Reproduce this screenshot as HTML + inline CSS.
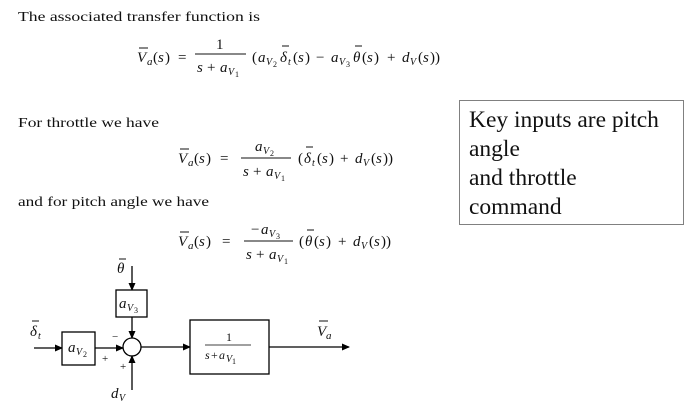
<!DOCTYPE html>
<html><head><meta charset="utf-8"><style>
html,body{margin:0;padding:0;background:#fff;width:696px;height:416px;overflow:hidden}
svg{display:block}
text{font-family:"Liberation Serif",serif;fill:#111}
.m{font-style:italic}
.s{font-style:italic;font-size:10px}
.n{font-size:8px}
</style></head><body>
<svg width="696" height="416" viewBox="0 0 696 416" xmlns="http://www.w3.org/2000/svg" font-family="Liberation Serif, serif">
<defs><marker id="a" markerWidth="8" markerHeight="8" refX="7" refY="4" orient="auto" markerUnits="userSpaceOnUse"><path d="M0,0.5 L8,4 L0,7.5 z" fill="#000"/></marker></defs>
<text x="18" y="21" font-size="14" textLength="242" lengthAdjust="spacingAndGlyphs">The associated transfer function is</text>
<text x="18" y="127" font-size="14" textLength="141" lengthAdjust="spacingAndGlyphs">For throttle we have</text>
<text x="18" y="206" font-size="14" textLength="191" lengthAdjust="spacingAndGlyphs">and for pitch angle we have</text>

<g font-size="15" stroke-width="1">
<!-- Eq1 baseline 62 -->
<text x="137" y="62" class="m">V</text><line x1="139" y1="48" x2="148" y2="48" stroke="#111"/><text x="147" y="65" class="m" font-size="11">a</text>
<text x="153" y="62">(</text><text x="158" y="62" class="m">s</text><text x="165" y="62">)</text>
<text x="178" y="62">=</text>
<text x="216" y="49">1</text><line x1="195" y1="54" x2="246" y2="54" stroke="#111"/>
<text x="197" y="72" class="m">s</text><text x="207" y="72">+</text><text x="220" y="72" class="m">a</text><text x="228" y="75" class="s">V</text><text x="235" y="77" class="n">1</text>
<text x="252" y="62">(</text><text x="258" y="62" class="m">a</text><text x="266" y="65" class="s">V</text><text x="273" y="67" class="n">2</text>
<text x="280" y="62" class="m">δ</text><line x1="282" y1="46" x2="289" y2="46" stroke="#111"/><text x="288" y="65" class="s">t</text>
<text x="293" y="62">(</text><text x="298" y="62" class="m">s</text><text x="305" y="62">)</text>
<text x="316" y="62">−</text>
<text x="331" y="62" class="m">a</text><text x="339" y="65" class="s">V</text><text x="346" y="67" class="n">3</text>
<text x="353" y="62" class="m">θ</text><line x1="355" y1="46" x2="362" y2="46" stroke="#111"/>
<text x="362" y="62">(</text><text x="367" y="62" class="m">s</text><text x="374" y="62">)</text>
<text x="387" y="62">+</text>
<text x="402" y="62" class="m">d</text><text x="410" y="65" class="s">V</text>
<text x="418" y="62">(</text><text x="423" y="62" class="m">s</text><text x="430" y="62">))</text>

<!-- Eq2 baseline 163 -->
<text x="178" y="163" class="m">V</text><line x1="180" y1="149" x2="189" y2="149" stroke="#111"/><text x="188" y="166" class="m" font-size="11">a</text>
<text x="194" y="163">(</text><text x="199" y="163" class="m">s</text><text x="206" y="163">)</text>
<text x="220" y="163">=</text>
<text x="255" y="151" class="m">a</text><text x="263" y="154" class="s">V</text><text x="270" y="156" class="n">2</text>
<line x1="241" y1="158" x2="291" y2="158" stroke="#111"/>
<text x="243" y="176" class="m">s</text><text x="253" y="176">+</text><text x="266" y="176" class="m">a</text><text x="274" y="179" class="s">V</text><text x="281" y="181" class="n">1</text>
<text x="298" y="163">(</text><text x="304" y="163" class="m">δ</text><line x1="306" y1="147" x2="313" y2="147" stroke="#111"/><text x="312" y="166" class="s">t</text>
<text x="317" y="163">(</text><text x="322" y="163" class="m">s</text><text x="329" y="163">)</text>
<text x="340" y="163">+</text>
<text x="355" y="163" class="m">d</text><text x="363" y="166" class="s">V</text>
<text x="371" y="163">(</text><text x="376" y="163" class="m">s</text><text x="383" y="163">))</text>

<!-- Eq3 baseline 246 -->
<text x="178" y="246" class="m">V</text><line x1="180" y1="232" x2="189" y2="232" stroke="#111"/><text x="188" y="249" class="m" font-size="11">a</text>
<text x="194" y="246">(</text><text x="199" y="246" class="m">s</text><text x="206" y="246">)</text>
<text x="222" y="246">=</text>
<text x="251" y="234">−</text><text x="261" y="234" class="m">a</text><text x="269" y="237" class="s">V</text><text x="276" y="239" class="n">3</text>
<line x1="244" y1="241" x2="293" y2="241" stroke="#111"/>
<text x="246" y="259" class="m">s</text><text x="256" y="259">+</text><text x="269" y="259" class="m">a</text><text x="277" y="262" class="s">V</text><text x="284" y="264" class="n">1</text>
<text x="299" y="246">(</text><text x="305" y="246" class="m">θ</text><line x1="307" y1="230" x2="314" y2="230" stroke="#111"/>
<text x="314" y="246">(</text><text x="319" y="246" class="m">s</text><text x="326" y="246">)</text>
<text x="338" y="246">+</text>
<text x="353" y="246" class="m">d</text><text x="361" y="249" class="s">V</text>
<text x="369" y="246">(</text><text x="374" y="246" class="m">s</text><text x="381" y="246">))</text>
</g>

<rect x="459.5" y="100.5" width="224" height="124" fill="#fff" stroke="#808080" stroke-width="1"/>
<g font-size="23.5"><text x="469" y="127">Key inputs are pitch</text><text x="469" y="156">angle</text><text x="469" y="185">and throttle</text><text x="469" y="214">command</text></g>

<g stroke="#000" stroke-width="1.3" fill="none">
<line x1="132" y1="266" x2="132" y2="290" marker-end="url(#a)"/>
<rect x="116" y="290" width="31" height="27" fill="#fff"/>
<line x1="132" y1="317" x2="132" y2="338" marker-end="url(#a)"/>
<circle cx="132" cy="347" r="9" fill="#fff"/>
<line x1="34" y1="348" x2="62" y2="348" marker-end="url(#a)"/>
<rect x="62" y="332" width="33" height="33" fill="#fff"/>
<line x1="95" y1="348" x2="123" y2="348" marker-end="url(#a)"/>
<line x1="132" y1="390" x2="132" y2="356" marker-end="url(#a)"/>
<line x1="141" y1="347" x2="190" y2="347" marker-end="url(#a)"/>
<rect x="190" y="320" width="79" height="54" fill="#fff"/>
<line x1="269" y1="347" x2="349" y2="347" marker-end="url(#a)"/>
</g>
<g font-size="15">
<text x="117" y="273" class="m">θ</text><line x1="119" y1="259" x2="126" y2="259" stroke="#111"/>
<text x="119" y="308" class="m">a</text><text x="127" y="311" class="s">V</text><text x="134" y="313" class="n">3</text>
<text x="30" y="336" class="m">δ</text><line x1="32" y1="321" x2="39" y2="321" stroke="#111"/><text x="38" y="339" class="s">t</text>
<text x="68" y="352" class="m">a</text><text x="76" y="355" class="s">V</text><text x="83" y="357" class="n">2</text>
<text x="112" y="340" font-size="11">−</text>
<text x="102" y="362" font-size="11">+</text>
<text x="120" y="370" font-size="11">+</text>
<text x="111" y="398" class="m">d</text><text x="119" y="401" class="s">V</text>
<text x="226" y="341" font-size="12">1</text><line x1="205" y1="345" x2="251" y2="345" stroke="#000" stroke-width="0.8"/>
<text x="205" y="359" font-size="12" class="m">s</text><text x="211" y="359" font-size="12">+</text><text x="219" y="359" font-size="12" class="m">a</text><text x="226" y="362" class="s" font-size="9">V</text><text x="232" y="364" class="n" font-size="7">1</text>
<text x="317" y="336" class="m">V</text><line x1="319" y1="321" x2="328" y2="321" stroke="#111"/><text x="326" y="339" class="m" font-size="11">a</text>
</g>
</svg>
</body></html>
